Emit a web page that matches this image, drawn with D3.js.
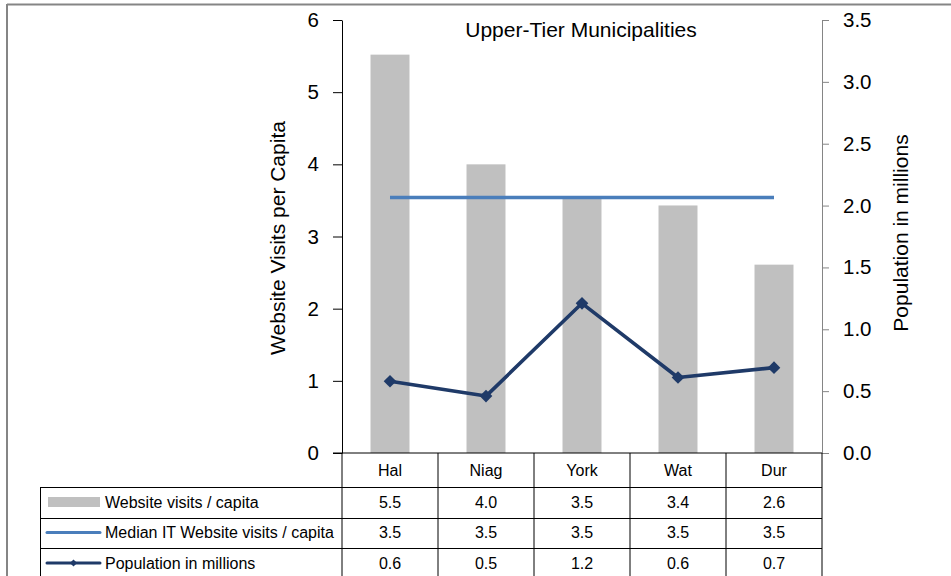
<!DOCTYPE html>
<html>
<head>
<meta charset="utf-8">
<script src="https://cdn.jsdelivr.net/npm/d3@7"></script>
<style>
  html, body { margin: 0; padding: 0; background: #fff; }
  svg { display: block; font-family: "Liberation Sans", Arial, sans-serif; }
</style>
</head>
<body>
<svg id="chart" width="951" height="576"></svg>
<script>
// Upper-tier municipalities: website visits per capita vs population
const categories = ["Hal", "Niag", "York", "Wat", "Dur"];
const visitsPerCapita = [5.52, 4.0, 3.52, 3.43, 2.61];
const medianVisits = [3.54, 3.54, 3.54, 3.54, 3.54];
const population = [0.58, 0.46, 1.21, 0.61, 0.69];
const leftTicks = [0, 1, 2, 3, 4, 5, 6];
const rightTicks = [0, 0.5, 1.0, 1.5, 2.0, 2.5, 3.0, 3.5];
const seriesNames = ["Website visits / capita", "Median IT Website visits / capita", "Population in millions"];

const svg = d3.select("#chart");
const plot = { left: 342, right: 822, top: 20, bottom: 453 };
const colors = { bar: "#c0c0c0", median: "#4a7ebb", pop: "#1f3a68", frame: "#858585" };
const font = { tick: 20.5, title: 21, table: 16 };

const x = d3.scaleBand().domain(categories).range([plot.left, plot.right]).paddingInner(0).paddingOuter(0);
const yL = d3.scaleLinear().domain([0, 6]).range([plot.bottom, plot.top]);
const yR = d3.scaleLinear().domain([0, 3.5]).range([plot.bottom, plot.top]);
const fmt1 = d3.format(".1f");

// outer chart frame (top and left edges)
svg.append("line").attr("x1", 7).attr("x2", 951).attr("y1", 4.5).attr("y2", 4.5)
  .attr("stroke", colors.frame).attr("stroke-width", 2);
svg.append("line").attr("x1", 7).attr("x2", 7).attr("y1", 4).attr("y2", 576)
  .attr("stroke", colors.frame).attr("stroke-width", 2);

// bars
const barW = x.bandwidth() * 0.406;
svg.append("g").selectAll("rect").data(categories).join("rect")
  .attr("x", d => x(d) + (x.bandwidth() - barW) / 2)
  .attr("width", barW)
  .attr("y", (d, i) => yL(visitsPerCapita[i]))
  .attr("height", (d, i) => yL(0) - yL(visitsPerCapita[i]))
  .attr("fill", colors.bar);

// median line
const cx = d => x(d) + x.bandwidth() / 2;
svg.append("path")
  .attr("d", d3.line().x((d, i) => cx(categories[i])).y(d => yL(d))(medianVisits))
  .attr("fill", "none").attr("stroke", colors.median).attr("stroke-width", 3.5);

// population line with diamond markers
svg.append("path")
  .attr("d", d3.line().x((d, i) => cx(categories[i])).y(d => yR(d))(population))
  .attr("fill", "none").attr("stroke", colors.pop).attr("stroke-width", 3.6)
  .attr("stroke-linejoin", "round");
const diamond = d3.symbol().type(d3.symbolSquare).size(80);
svg.append("g").selectAll("path").data(population).join("path")
  .attr("d", diamond)
  .attr("transform", (d, i) => `translate(${cx(categories[i])},${yR(d)}) rotate(45)`)
  .attr("fill", colors.pop);

// left axis
const gL = svg.append("g").attr("transform", `translate(${plot.left},0)`)
  .call(d3.axisLeft(yL).tickValues(leftTicks).tickFormat(d3.format("d")).tickSize(9).tickSizeOuter(0).tickPadding(14));
gL.selectAll("path, line").attr("stroke", "#000");
gL.selectAll("text").attr("font-size", font.tick).attr("fill", "#000").style("font-family", "inherit");

// right axis
const gR = svg.append("g").attr("transform", `translate(${plot.right},0)`)
  .call(d3.axisRight(yR).tickValues(rightTicks).tickFormat(fmt1).tickSize(7).tickSizeOuter(0).tickPadding(14));
gR.selectAll("path, line").attr("stroke", colors.frame);
gR.selectAll("text").attr("font-size", font.tick).attr("fill", "#000").style("font-family", "inherit");

// titles
svg.append("text").attr("x", 581).attr("y", 37).attr("text-anchor", "middle")
  .attr("font-size", font.title).text("Upper-Tier Municipalities");
svg.append("text").attr("transform", "translate(285,238) rotate(-90)").attr("text-anchor", "middle")
  .attr("font-size", font.title).text("Website Visits per Capita");
svg.append("text").attr("transform", "translate(908,233) rotate(-90)").attr("text-anchor", "middle")
  .attr("font-size", font.title).text("Population in millions");

// data table below the plot
const tableLeft = 40;
const rowEdges = [453, 487, 518, 548, 579];
const table = svg.append("g").attr("stroke", "#000").attr("stroke-width", 1);
// x axis line / table top
table.append("line").attr("x1", 333).attr("x2", plot.right).attr("y1", plot.bottom).attr("y2", plot.bottom);
// horizontal row rules
rowEdges.slice(1).forEach(y => {
  table.append("line").attr("x1", tableLeft).attr("x2", plot.right).attr("y1", y + 0.5).attr("y2", y + 0.5);
});
// vertical column rules
const colEdges = categories.map(c => x(c)).concat([plot.right]);
colEdges.forEach(xe => {
  table.append("line").attr("x1", xe).attr("x2", xe).attr("y1", plot.bottom).attr("y2", 576);
});
table.append("line").attr("x1", tableLeft + 0.5).attr("x2", tableLeft + 0.5).attr("y1", rowEdges[1]).attr("y2", 576);

// category header
svg.append("g").selectAll("text").data(categories).join("text")
  .attr("x", d => cx(d)).attr("y", 475.5).attr("text-anchor", "middle").attr("font-size", font.table).text(d => d);

// value rows
const rows = [visitsPerCapita, medianVisits, population];
const rowBaselines = [507.5, 538, 568.5];
rows.forEach((vals, r) => {
  svg.append("g").selectAll("text").data(vals).join("text")
    .attr("x", (d, i) => cx(categories[i])).attr("y", rowBaselines[r])
    .attr("text-anchor", "middle").attr("font-size", font.table).text(d => fmt1(d));
});

// legend keys and series names in the first column
const rowMid = [502, 532.5, 563];
svg.append("rect").attr("x", 48).attr("y", rowMid[0] - 5).attr("width", 52).attr("height", 10).attr("fill", colors.bar);
svg.append("line").attr("x1", 47).attr("x2", 100).attr("y1", rowMid[1]).attr("y2", rowMid[1])
  .attr("stroke", colors.median).attr("stroke-width", 3).attr("stroke-linecap", "round");
svg.append("line").attr("x1", 47).attr("x2", 100).attr("y1", rowMid[2]).attr("y2", rowMid[2])
  .attr("stroke", colors.pop).attr("stroke-width", 3).attr("stroke-linecap", "round");
svg.append("path").attr("d", d3.symbol().type(d3.symbolSquare).size(26))
  .attr("transform", `translate(73.5,${rowMid[2]}) rotate(45)`).attr("fill", colors.pop);
seriesNames.forEach((name, r) => {
  svg.append("text").attr("x", 105).attr("y", rowBaselines[r]).attr("font-size", font.table).text(name);
});
</script>
</body>
</html>
